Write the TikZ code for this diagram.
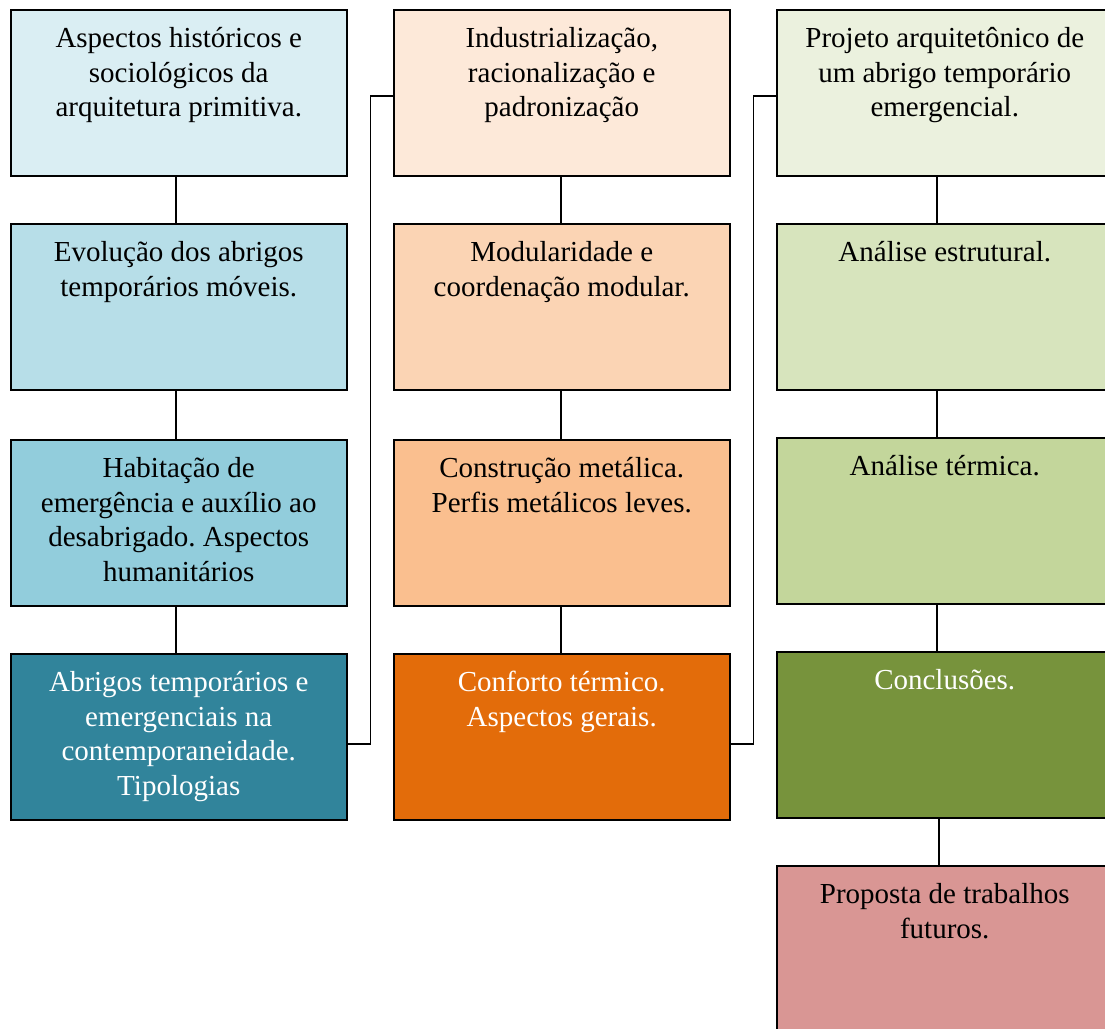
\documentclass[tikz,border=0pt]{standalone}
\usepackage{fontspec}
\setmainfont{Liberation Serif}
\frenchspacing
\definecolor{aone}{HTML}{DAEEF3}
\definecolor{atwo}{HTML}{B7DEE8}
\definecolor{athree}{HTML}{92CDDC}
\definecolor{afour}{HTML}{31849B}
\definecolor{bone}{HTML}{FDE9D9}
\definecolor{btwo}{HTML}{FBD4B4}
\definecolor{bthree}{HTML}{FABF8F}
\definecolor{bfour}{HTML}{E36C0A}
\definecolor{cone}{HTML}{EBF1DE}
\definecolor{ctwo}{HTML}{D7E4BD}
\definecolor{cthree}{HTML}{C3D69B}
\definecolor{cfour}{HTML}{77933C}
\definecolor{cfive}{HTML}{D99694}
\newcommand\boxtxt[1]{\parbox[t][166pt][t]{330pt}{\centering\rule{0pt}{38pt}#1\par}}
\tikzset{
  bx/.style={draw=black, line width=1.5pt, inner sep=0pt, minimum width=336pt,
    minimum height=166pt, anchor=north west, font=\fontsize{29}{34.5}\selectfont},
  wt/.style={text=white},
  ln/.style={draw=black, line width=1.6pt}
}
\begin{document}
\begin{tikzpicture}[x=1pt,y=-1pt]
\useasboundingbox (0,0) rectangle (1105,1028);
\clip (0,0) rectangle (1105,1028);
% column 1
\node[bx,fill=aone] (a1) at (10,9) {\boxtxt{Aspectos históricos e\\sociológicos da\\arquitetura primitiva.}};
\node[bx,fill=atwo] (a2) at (10,223) {\boxtxt{Evolução dos abrigos\\temporários móveis.}};
\node[bx,fill=athree] (a3) at (10,439) {\boxtxt{Habitação de\\emergência e auxílio ao\\desabrigado. Aspectos\\humanitários}};
\node[bx,fill=afour,wt] (a4) at (10,653) {\boxtxt{Abrigos temporários e\\emergenciais na\\contemporaneidade.\\Tipologias}};
% column 2
\node[bx,fill=bone] (b1) at (393,9) {\boxtxt{Industrialização,\\racionalização e\\padronização}};
\node[bx,fill=btwo] (b2) at (393,223) {\boxtxt{Modularidade e\\coordenação modular.}};
\node[bx,fill=bthree] (b3) at (393,439) {\boxtxt{Construção metálica.\\Perfis metálicos leves.}};
\node[bx,fill=bfour,wt] (b4) at (393,653) {\boxtxt{Conforto térmico.\\Aspectos gerais.}};
% column 3
\node[bx,fill=cone] (c1) at (776,9) {\boxtxt{Projeto arquitetônico de\\um abrigo temporário\\emergencial.}};
\node[bx,fill=ctwo] (c2) at (776,223) {\boxtxt{Análise estrutural.}};
\node[bx,fill=cthree] (c3) at (776,437) {\boxtxt{Análise térmica.}};
\node[bx,fill=cfour,wt] (c4) at (776,651) {\boxtxt{Conclusões.}};
\node[bx,fill=cfive] (c5) at (776,865) {\boxtxt{Proposta de trabalhos\\futuros.}};
% connectors
\draw[ln] ([xshift=-3pt]a1.south) -- ([xshift=-3pt]a2.north);
\draw[ln] ([xshift=-3pt]a2.south) -- ([xshift=-3pt]a3.north);
\draw[ln] ([xshift=-3pt]a3.south) -- ([xshift=-3pt]a4.north);
\draw[ln] ([xshift=-1pt]b1.south) -- ([xshift=-1pt]b2.north);
\draw[ln] ([xshift=-1pt]b2.south) -- ([xshift=-1pt]b3.north);
\draw[ln] ([xshift=-1pt]b3.south) -- ([xshift=-1pt]b4.north);
\draw[ln] ([xshift=-8pt]c1.south) -- ([xshift=-8pt]c2.north);
\draw[ln] ([xshift=-8pt]c2.south) -- ([xshift=-8pt]c3.north);
\draw[ln] ([xshift=-8pt]c3.south) -- ([xshift=-8pt]c4.north);
\draw[ln] ([xshift=-6pt]c4.south) -- ([xshift=-6pt]c5.north);
\draw[ln] ([yshift=-7pt]a4.east) -- ++(23,0) |- ([yshift=-3pt]b1.west);
\draw[ln] ([yshift=-7pt]b4.east) -- ++(23,0) |- ([yshift=-3pt]c1.west);
\end{tikzpicture}
\end{document}
